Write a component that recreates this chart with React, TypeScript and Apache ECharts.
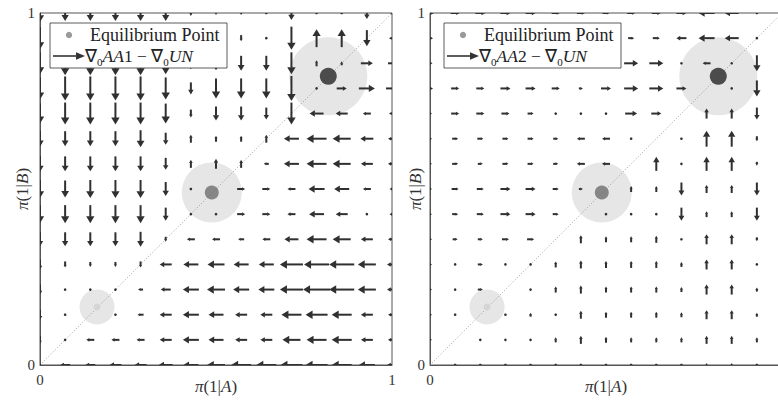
import React, { useEffect, useRef } from "react";
import * as echarts from "echarts";

// grid positions of the quiver (x left→right, y top→bottom)
const gridX = [0, 0.0714, 0.1429, 0.2143, 0.2857, 0.3571, 0.4286, 0.5, 0.5714, 0.6429, 0.7143, 0.7857, 0.8571, 0.9286, 1];
const gridY = [1, 0.9286, 0.8571, 0.7857, 0.7143, 0.6429, 0.5714, 0.5, 0.4286, 0.3571, 0.2857, 0.2143, 0.1429, 0.0714, 0];

// equilibrium points (same for both panels)
const eqX = [0.162, 0.488, 0.819];
const eqY = [0.165, 0.49, 0.82];

// Panel 1: ∇0AA1 − ∇0UN  (horizontal / vertical components, rows top→bottom)
const leftU = [
  [0, 0, 0, 0, 0, 0, 0, 0, 0, 0, 0, 0, 0, 0, 0],
  [0, 0, 0, 0, 0, 0, 0, 0, 0, 0, 0, 0, 0, 0, -6],
  [0, 0, 0, 0, 0, 0, 0, 0, 0, 0, 0, 0, 0, 12, 8],
  [0, 0, 0, 0, 0, 0, 0, 0, 0, 0, 0, 0, 10, 16, 12],
  [0, 0, 0, 0, 0, 0, 0, 0, 0, 0, 0, -14, -12, -8, -6],
  [0, 0, 0, 0, 0, 0, 0, 0, 0, 0, -15, -20, -18, -13, -8],
  [0, 0, 0, 0, 0, 0, 0, 0, 0, -5, -15, -20, -18, -12, -8],
  [0, 0, 0, 0, 0, 0, 0, 0, 8, 8, -8, -16, -15, -8, -5],
  [0, 0, 0, 0, 0, 0, 0, 0, 8, 8, -8, -15, -12, -2, -5],
  [0, 0, 0, 0, 0, 0, -8, -8, -6, -8, -14, -20, -18, -12, -8],
  [0, 0, 0, 0, 0, -12, -15, -17, -15, -15, -23, -25, -25, -18, -10],
  [0, 0, 0, 0, -5, -10, -16, -18, -16, -16, -23, -27, -25, -18, -10],
  [0, 0, 0, 0, -6, -12, -16, -15, -12, -12, -20, -22, -20, -12, -8],
  [0, 0, -8, -8, -8, -12, -16, -15, -12, -12, -18, -20, -20, -12, -8],
  [0, -10, -10, -12, -12, -14, -15, -18, -20, -20, -22, -22, -20, -16, -10],
];
const leftV = [
  [-18, -16, -16, -16, -16, -16, -6, -4, -4, -3, -14, -3, -3, -12, -3],
  [-22, -26, -26, -26, -26, -24, -12, -18, -6, -2, -23, 18, 18, -16, 0],
  [-22, -24, -24, -24, -24, -22, -12, -14, -15, -15, -22, 6, 4, 0, 0],
  [-22, -24, -24, -24, -24, -22, -12, -20, -20, -20, -25, 2, 0, 0, 0],
  [-20, -22, -22, -22, -22, -20, -8, -14, -14, -12, -22, 0, 0, 0, 0],
  [-16, -15, -15, -15, -17, -12, 8, 6, 6, 8, 0, 0, 0, 0, 0],
  [-16, -15, -15, -15, -15, -12, 8, 10, 8, 0, 0, 0, 0, 0, 0],
  [-18, -17, -18, -18, -18, -14, 2, 0, 0, 0, 0, 0, 0, 0, 0],
  [-18, -18, -18, -18, -18, -13, -2, 2, 0, 0, 0, 0, 0, 0, 0],
  [-14, -14, -14, -14, -15, -5, 0, 0, 0, 0, 0, 0, 0, 0, 0],
  [-10, -6, -5, -5, -6, 0, 0, 0, 0, 0, 0, 0, 0, 0, 0],
  [-10, -3, -2, -2, 0, 0, 0, 0, 0, 0, 0, 0, 0, 0, 0],
  [-10, -3, 0, -2, 0, 0, 0, 0, 0, 0, 0, 0, 0, 0, 0],
  [-8, -2, 0, 0, 0, 0, 0, 0, 0, 0, 0, 0, 0, 0, 0],
  [-2, 0, 0, 0, 0, 0, 0, 0, 0, 0, 0, 0, 0, 0, 0],
];

// Panel 2: ∇0AA2 − ∇0UN
const rightU = [
  [8, 9, 10, 10, 10, 8, 8, 7, 8, 9, 10, -16, -14, 2, 0],
  [6, 6, 6, 6, 6, 6, 6, 6, 6, 7, -10, -16, -14, 0, 0],
  [5, 8, 8, 8, 8, 6, 6, 8, 14, 14, 2, -8, 0, 0, 0],
  [6, 8, 8, 10, 10, 8, 4, 10, 14, 14, 10, 0, 2, 0, 0],
  [4, 8, 8, 8, 6, 2, 2, 2, 12, 10, 0, 0, 0, 0, 0],
  [4, 6, 6, 6, 6, 5, -8, -8, 2, 0, 2, 0, 0, 0, 0],
  [4, 6, 5, 6, 6, 5, -8, -8, 0, 0, 2, 0, 0, 0, 0],
  [4, 7, 7, 10, 10, 6, 4, 0, 0, 0, 0, 0, 0, 0, 0],
  [4, 6, 7, 10, 10, 6, 0, 2, 2, 2, 0, 0, 0, 0, 0],
  [4, 5, 5, 7, 7, 0, 0, 0, 0, 0, 0, 0, 0, 0, 0],
  [4, 2, 5, 2, 0, 0, 0, 0, 0, 0, 0, 0, 0, 0, 0],
  [4, 2, 5, 0, 2, 0, 0, 0, 0, 0, 0, 0, 0, 0, 0],
  [4, 2, 0, 2, 0, 0, 0, 0, 0, 0, 0, 0, 0, 0, 0],
  [4, 0, 2, 2, 2, 0, 0, 0, 0, 0, 0, 0, 0, 0, 0],
  [0, 0, 0, 0, 0, 0, 0, 0, 0, 0, 0, 0, 0, 0, 0],
];
const rightV = [
  [0, 0, 0, 0, 0, 0, 0, 0, 0, 0, 0, 0, 0, 0, 0],
  [0, 0, 0, 0, 0, 0, 0, 0, 0, 0, 0, 0, 0, 2, 0],
  [0, 0, 0, 0, 0, 0, 0, 0, 0, 0, 0, 0, 2, -16, 0],
  [0, 0, 0, 0, 0, 0, 0, 0, 0, 0, 0, 0, 0, -16, 0],
  [0, 0, 0, 0, 0, 0, 0, 0, 0, 0, 0, 10, 10, -12, 0],
  [0, 0, 0, 0, 0, 0, 0, 0, 0, 0, 0, 16, 16, -5, 0],
  [0, 0, 0, 0, 0, 0, 0, 0, 0, 14, 0, 14, 14, -4, 0],
  [0, 0, 0, 0, 0, 0, 0, 0, 6, 6, -13, 8, 8, -13, 0],
  [0, 0, 0, 0, 0, 0, 0, 0, 0, 0, -13, 6, 6, -13, 0],
  [0, 0, 0, 0, 0, 0, 8, 6, 6, 7, 2, 10, 10, -4, 0],
  [0, 0, 0, 0, 2, 6, 8, 7, 7, 7, 5, 10, 10, 3, 0],
  [0, 0, 0, 0, 0, 6, 8, 6, 6, 6, 5, 10, 10, 4, 0],
  [0, 0, 0, 0, 4, 3, 8, 6, 6, 6, 5, 9, 9, 4, 0],
  [0, 0, 0, 0, 0, 5, 8, 6, 5, 5, 5, 8, 8, 5, 0],
  [0, 3, 3, 3, 3, 3, 3, 3, 3, 3, 3, 4, 4, 3, 0],
];

const tickLabels = ["0", "1"];
const legendEq = "Equilibrium Point";
const legendFormulas = [
  "{n|∇}{s|0}{i|AA}{n|1 − ∇}{s|0}{i|UN}",
  "{n|∇}{s|0}{i|AA}{n|2 − ∇}{s|0}{i|UN}",
];
const xName = "{i|π}(1|{i|A})";
const yName = "{i|π}(1|{i|B})";

const FONT = "Liberation Serif";
const ARROW = "#303030";
const PX = 1 / 352; // readings were taken in plot pixels

function quiverData(U: number[][], V: number[][]) {
  const out: number[][] = [];
  for (let r = 0; r < gridY.length; r++)
    for (let c = 0; c < gridX.length; c++)
      out.push([gridX[c], gridY[r], U[r][c] * PX, V[r][c] * PX]);
  return out;
}

function renderArrow(params: any, api: any) {
  const x = api.value(0), y = api.value(1), u = api.value(2), v = api.value(3);
  const p0 = api.coord([x - u / 2, y - v / 2]);
  const p1 = api.coord([x + u / 2, y + v / 2]);
  const dx = p1[0] - p0[0], dy = p1[1] - p0[1];
  const len = Math.hypot(dx, dy);
  if (len < 1) return null;
  if (len < 3.5) {
    const c = api.coord([x, y]);
    return { type: "circle", shape: { cx: c[0], cy: c[1], r: 1.3 }, style: { fill: ARROW } };
  }
  const ux = dx / len, uy = dy / len;
  const hl = Math.max(2.5, Math.min(len * 0.38, 7));
  const hw = hl * 0.6;
  const bx = p1[0] - ux * hl, by = p1[1] - uy * hl;
  return {
    type: "group",
    children: [
      { type: "line", shape: { x1: p0[0], y1: p0[1], x2: bx + ux * 0.5, y2: by + uy * 0.5 }, style: { stroke: ARROW, lineWidth: 2 } },
      {
        type: "polygon",
        shape: { points: [[p1[0], p1[1]], [bx - uy * hw, by + ux * hw], [bx + uy * hw, by - ux * hw]] },
        style: { fill: ARROW },
      },
    ],
  };
}

function legendGraphics(ox: number, formula: string) {
  return [
    { type: "rect", z: 100, shape: { x: ox, y: 23, width: 177, height: 45 }, style: { fill: "#fff", stroke: "#333", lineWidth: 0.8 } },
    { type: "circle", z: 101, shape: { cx: ox + 19, cy: 35, r: 3.2 }, style: { fill: "#9a9a9a" } },
    { type: "text", z: 101, x: ox + 40, y: 35, style: { text: legendEq, fontFamily: FONT, fontSize: 18, fill: "#222", verticalAlign: "middle" } },
    { type: "line", z: 101, shape: { x1: ox + 3, y1: 56, x2: ox + 27, y2: 56 }, style: { stroke: "#333", lineWidth: 1.6 } },
    { type: "polygon", z: 101, shape: { points: [[ox + 35, 56], [ox + 26, 52.3], [ox + 26, 59.7]] }, style: { fill: "#333" } },
    {
      type: "text", z: 101, x: ox + 35, y: 57,
      style: {
        text: formula, verticalAlign: "middle", fill: "#222", fontFamily: FONT, fontSize: 17,
        rich: {
          n: { fontFamily: FONT, fontSize: 17.5, lineHeight: 20, verticalAlign: "top", fill: "#222" },
          i: { fontFamily: FONT, fontSize: 17.5, fontStyle: "italic", lineHeight: 20, verticalAlign: "top", fill: "#222" },
          s: { fontFamily: FONT, fontSize: 11, lineHeight: 11, verticalAlign: "bottom", fill: "#222" },
        },
      },
    },
  ];
}

function axisCommon(gridIndex: number, isX: boolean) {
  // the right panel's "1" on its x-axis lies beyond the picture's edge in the reference
  const hideMax = isX && gridIndex === 1;
  return {
    type: "value", gridIndex, min: 0, max: 1, interval: 1,
    name: isX ? xName : yName,
    nameLocation: "middle",
    nameMoveOverlap: false,
    nameGap: isX ? 13 : gridIndex === 0 ? 9 : 6,
    nameTextStyle: {
      fontFamily: FONT, fontSize: 17, color: "#333",
      rich: { i: { fontFamily: FONT, fontSize: 17, fontStyle: "italic", color: "#333" } },
    },
    axisLine: { show: true, lineStyle: { color: "#555", width: 1 } },
    axisTick: { show: false },
    splitLine: { show: false },
    axisLabel: {
      fontFamily: FONT, fontSize: 15, color: "#333", margin: isX ? 7 : 5,
      showMaxLabel: !hideMax,
      formatter: (v: number) => (v === 0 ? tickLabels[0] : hideMax ? "" : tickLabels[1]),
    },
  };
}

function panelSeries(idx: number, U: number[][], V: number[][]) {
  return [
    {
      type: "scatter", xAxisIndex: idx, yAxisIndex: idx, z: 1, silent: true,
      data: eqX.map((x, k) => ({ value: [x, eqY[k]], symbolSize: [35, 60, 78][k] })),
      itemStyle: { color: "#e6e6e6", opacity: 1 },
    },
    {
      type: "line", xAxisIndex: idx, yAxisIndex: idx, z: 2, silent: true, symbol: "none",
      data: [[0, 0], [1, 1]],
      lineStyle: { color: "#8a8a8a", width: 0.8, type: [1, 2] },
    },
    {
      type: "custom", xAxisIndex: idx, yAxisIndex: idx, z: 3, silent: true, clip: true,
      encode: { x: 0, y: 1 },
      data: quiverData(U, V),
      renderItem: renderArrow,
    },
    {
      type: "scatter", xAxisIndex: idx, yAxisIndex: idx, z: 4, silent: true,
      data: eqX.map((x, k) => ({
        value: [x, eqY[k]],
        symbolSize: [7, 14, 17][k],
        itemStyle: { color: ["#d2d2d2", "#6e6e6e", "#262626"][k] },
      })),
    },
  ];
}

export default function App() {
  const ref = useRef<HTMLDivElement>(null);
  useEffect(() => {
    const chart = echarts.init(ref.current!, null, { renderer: "svg" });
    chart.setOption({
      animation: false,
      backgroundColor: "#fff",
      grid: [
        { left: 40, top: 13, width: 352, height: 352, show: true, borderColor: "#555", borderWidth: 1, outerBoundsMode: "none", containLabel: false },
        { left: 430, top: 13, width: 352, height: 352, show: true, borderColor: "#555", borderWidth: 1, outerBoundsMode: "none", containLabel: false },
      ],
      xAxis: [axisCommon(0, true), axisCommon(1, true)],
      yAxis: [axisCommon(0, false), axisCommon(1, false)],
      series: [...panelSeries(0, leftU, leftV), ...panelSeries(1, rightU, rightV)],
      graphic: [...legendGraphics(50, legendFormulas[0]), ...legendGraphics(444, legendFormulas[1])],
    });
    return () => chart.dispose();
  }, []);
  return (
    <div
      ref={ref}
      style={{ position: "fixed", left: 0, top: 0, width: 778, height: 401, background: "#fff" }}
    />
  );
}
